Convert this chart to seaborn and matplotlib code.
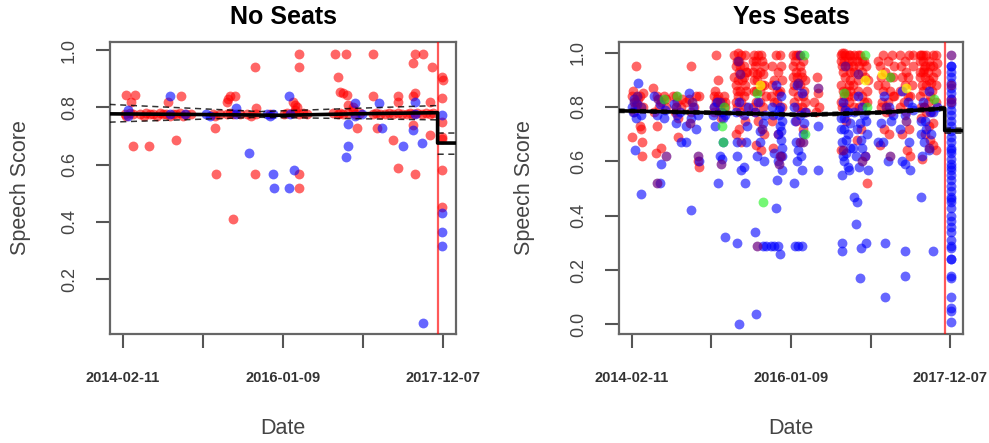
import numpy as np
import pandas as pd
import matplotlib
matplotlib.use("Agg")
import matplotlib.pyplot as plt
import seaborn as sns

# ---------------- data (x = days since 2014-02-11) ----------------
tick_days = [0, 348.5, 697, 1046, 1395]
tick_labels = ["2014-02-11", "", "2016-01-09", "", "2017-12-07"]
titles = ["No Seats", "Yes Seats"]
break_day = 1370

no_red = [
    (9, .775), (16, .77), (30, .78), (45, .775), (74, .775), (95, .77), (103, .78), (120, .775),
    (132, .775), (150, .77), (161, .78), (175, .775), (190, .775), (205, .77), (219, .775),
    (234, .775), (248, .78), (262, .77), (277, .775), (299, .775), (393, .775), (401, .77),
    (423, .775), (452, .775), (466, .78), (481, .775), (510, .775), (539, .775), (560, .77),
    (582, .775), (640, .775), (700, .775), (713, .78), (742, .78), (749, .79), (768, .775),
    (786, .78), (800, .775), (916, .78), (938, .775), (945, .78), (960, .775), (982, .78),
    (1003, .79), (1011, .775), (1032, .78), (1090, .775), (1100, .78), (1120, .775),
    (1140, .775), (1160, .78), (1178, .775), (1199, .78), (1215, .775), (1236, .775),
    (1250, .78), (1265, .775), (1280, .78), (1300, .775), (1320, .78), (1337, .775), (1352, .78),
    (16, .843), (52, .843), (38, .82), (45, .666), (115, .666), (197, .82), (256, .84),
    (234, .686), (401, .729), (408, .567), (452, .82), (466, .84), (488, .84), (459, .83),
    (481, .409), (575, .942), (582, .796), (575, .567), (768, .986), (768, .942), (742, .82),
    (749, .808), (760, .80), (768, .567), (768, .517), (923, .986), (971, .986), (938, .907),
    (945, .855), (960, .85), (974, .843), (982, .808), (1003, .80), (1018, .729), (1090, .986),
    (1090, .84), (1108, .729), (1199, .84), (1199, .82), (1178, .686), (1199, .587),
    (1272, .986), (1265, .953), (1308, .986), (1272, .849), (1265, .84), (1265, .738),
    (1272, .567), (1344, .942), (1337, .82), (1337, .703), (1388, .907), (1392, .895),
    (1388, .831), (1388, .75), (1388, .697), (1388, .69), (1388, .581), (1388, .453),
]
no_blue = [
    (23, .79), (23, .77), (208, .775), (270, .775), (364, .775), (380, .77), (495, .775),
    (626, .775), (640, .77), (655, .775), (727, .775), (1011, .77), (1040, .775), (1270, .775),
    (208, .84), (495, .796), (550, .639), (655, .567), (658, .517), (725, .84), (725, .517),
    (746, .581), (982, .742), (982, .663), (971, .625), (1011, .814), (1117, .814), (1127, .729),
    (1221, .666), (1272, .82), (1265, .72), (1301, .676), (1305, .046), (1388, .773),
    (1388, .43), (1388, .366), (1388, .314),
]

yes_red = [
    (20, .95), (5, .86), (35, .84), (20, .82), (50, .80), (10, .78), (0, .69), (45, .67), (45, .62),
    (35, .73), (40, .72), (30, .83), (15, .80), (0, .84), (50, .85),
    (95, .87), (110, .84), (130, .82), (150, .80), (100, .78), (110, .73), (130, .65), (105, .63),
    (140, .84), (120, .80), (150, .83),
    (180, .84), (200, .82), (215, .80), (190, .78), (205, .76), (205, .69), (220, .83), (195, .84),
    (260, .95), (295, .84), (240, .82), (275, .80), (260, .78), (290, .60), (295, .58), (250, .83),
    (280, .84),
    (370, .99), (380, .90), (360, .84), (375, .83), (395, .82), (410, .80), (360, .78), (390, .76),
    (405, .84), (370, .82),
    (465, 1.0), (480, .99), (495, .99), (455, .95), (470, .93), (485, .90), (455, .88), (500, .86),
    (465, .84), (480, .82), (460, .80), (495, .75), (470, .72), (455, .70), (480, .67), (500, .93),
    (470, .97), (490, .91), (460, .86),
    (535, .99), (555, .99), (570, .97), (540, .95), (560, .93), (535, .90), (570, .88), (545, .86),
    (560, .82), (575, .80), (540, .78), (555, .75), (580, .70), (545, .66), (565, .64), (590, .84),
    (550, .92),
    (630, .99), (650, .99), (615, .88), (645, .85), (625, .82), (660, .80), (615, .75), (640, .70),
    (620, .65), (655, .62), (635, .86),
    (720, .99), (705, .95), (740, .93), (725, .91), (710, .88), (755, .86), (730, .84), (710, .82),
    (745, .80), (765, .78), (720, .75), (750, .72), (735, .95), (715, .97), (760, .90),
    (810, .91), (800, .82), (820, .80), (805, .78), (815, .85),
    (920, 1.0), (935, .99), (950, .99), (915, .97), (945, .95), (925, .93), (955, .90), (915, .88),
    (940, .86), (930, .84), (950, .82), (920, .80), (940, .75), (915, .64), (930, .97), (955, .93),
    (975, .99), (1000, .99), (985, .97), (970, .95), (1010, .93), (990, .90), (1030, .86),
    (975, .84), (1015, .82), (995, .80), (1005, .72), (985, .68), (1020, .62), (1030, .52),
    (1015, .97), (1035, .90),
    (1140, .99), (1085, .95), (1110, .93), (1130, .91), (1080, .88), (1100, .86), (1145, .84),
    (1120, .82), (1090, .80), (1135, .78), (1105, .72), (1125, .70), (1085, .66), (1150, .95),
    (1230, .99), (1180, .95), (1210, .91), (1195, .88), (1220, .84), (1175, .80), (1200, .78),
    (1215, .72), (1185, .70), (1205, .64), (1220, .62), (1230, .95),
    (1265, .99), (1290, .99), (1320, .99), (1275, .97), (1305, .95), (1260, .93), (1330, .93),
    (1285, .91), (1300, .90), (1270, .88), (1315, .86), (1260, .84), (1295, .82), (1280, .80),
    (1310, .78), (1265, .76), (1300, .73), (1285, .70), (1320, .66), (1330, .64), (1270, .61),
    (1335, .96), (1280, .94), (1310, .89),
    (1398, .83),
]
yes_red_dense = [
    (360, .80), (380, .84), (395, .78), (365, .86), (410, .82), (385, .80),
    (450, .99), (460, .97), (475, .95), (490, .95), (505, .93), (450, .91), (465, .90), (495, .88),
    (475, .86), (490, .84), (455, .82), (500, .80), (475, .78),
    (530, .97), (545, .97), (565, .99), (580, .95), (530, .93), (550, .90), (575, .92), (535, .86),
    (560, .86), (580, .88), (545, .82), (530, .80),
    (615, .95), (640, .93), (660, .90), (625, .90), (650, .86), (610, .84), (635, .82), (655, .95),
    (705, .99), (730, .99), (750, .97), (705, .91), (720, .93), (745, .91), (735, .88), (750, .84),
    (705, .86), (725, .80), (760, .82), (740, .78),
    (915, .99), (930, 1.0), (945, .97), (955, .99), (920, .95), (935, .91), (950, .88), (925, .86),
    (945, .84), (915, .82), (935, .80), (955, .86),
    (965, .97), (990, .99), (1010, .97), (1025, .95), (975, .93), (995, .95), (1020, .91),
    (970, .88), (990, .86), (1010, .84), (1030, .82), (975, .80),
    (1080, .97), (1100, .99), (1120, .97), (1145, .91), (1090, .91), (1110, .88), (1130, .86),
    (1150, .84), (1095, .82), (1115, .78),
    (1175, .99), (1195, .97), (1215, .99), (1185, .91), (1200, .93), (1225, .88), (1175, .86),
    (1210, .84), (1190, .82),
    (1260, .99), (1275, .99), (1300, .97), (1330, .99), (1260, .97), (1285, .95), (1320, .95),
    (1275, .93), (1295, .93), (1260, .91), (1320, .91), (1290, .88), (1330, .88), (1275, .86),
    (1305, .84), (1330, .82), (1290, .78), (1265, .80), (1320, .74), (1305, .68),
]
yes_blue = [
    (30, .89), (10, .83), (25, .81), (5, .78), (40, .77), (20, .76), (15, .64), (40, .48), (0, .80),
    (100, .84), (125, .81), (145, .79), (110, .77), (130, .59), (125, .52), (140, .76),
    (185, .81), (210, .78), (195, .74), (215, .67), (200, .77),
    (250, .85), (270, .80), (290, .77), (240, .73), (280, .72), (240, .67), (295, .60), (260, .42),
    (260, .76),
    (375, .82), (360, .80), (390, .78), (410, .77), (365, .73), (400, .67), (385, .62), (395, .61),
    (380, .52), (410, .32), (355, .77), (400, .76),
    (470, .82), (455, .78), (490, .77), (505, .73), (460, .67), (500, .67), (460, .62), (490, .58),
    (480, .57), (495, .52), (460, .30), (470, .00), (510, .80),
    (555, .82), (540, .78), (575, .74), (560, .71), (560, .67), (550, .62), (580, .60), (540, .34),
    (575, .29), (590, .29), (545, .04), (585, .77),
    (630, .88), (655, .84), (615, .80), (645, .77), (660, .75), (650, .73), (640, .70), (660, .65),
    (625, .63), (660, .57), (635, .53), (630, .43), (610, .29), (625, .29), (640, .29), (650, .26),
    (645, .79), (655, .71),
    (725, .88), (745, .85), (710, .80), (735, .77), (755, .74), (720, .67), (740, .62), (725, .60),
    (745, .57), (710, .52), (715, .29), (730, .29), (745, .29), (760, .78),
    (815, .73), (815, .57),
    (925, .82), (945, .78), (915, .76), (955, .74), (930, .72), (945, .70), (920, .67), (940, .63),
    (930, .60), (950, .57), (920, .55), (920, .30), (920, .27), (935, .79),
    (990, .84), (1010, .80), (975, .78), (1025, .75), (985, .72), (1005, .68), (970, .65),
    (1020, .62), (995, .58), (1035, .57), (975, .47), (985, .45), (980, .37), (1005, .28),
    (1025, .30), (1000, .17), (1015, .77),
    (1105, .84), (1125, .80), (1145, .77), (1090, .74), (1080, .67), (1100, .67), (1120, .60),
    (1110, .30), (1110, .10), (1135, .75),
    (1185, .86), (1210, .82), (1225, .80), (1195, .77), (1175, .72), (1215, .67), (1185, .60),
    (1195, .59), (1220, .57), (1195, .27), (1195, .18), (1230, .79),
    (1300, .86), (1275, .82), (1320, .78), (1265, .75), (1290, .72), (1310, .70), (1280, .67),
    (1300, .64), (1270, .62), (1265, .47), (1320, .27), (1335, .80),
    (650, .80), (620, .77), (655, .68), (640, .60), (660, .62),
    (915, .72), (940, .68), (955, .65), (925, .62), (945, .58), (930, .76),
    (1000, .74), (1030, .70), (980, .62), (1010, .65),
    (715, .75), (750, .70), (730, .64), (1285, .75), (1265, .70), (1305, .78),
    (1398, .95), (1398, .93), (1398, .91), (1398, .89), (1398, .87), (1398, .85), (1398, .83),
    (1398, .81), (1398, .79), (1398, .77), (1398, .75), (1398, .73), (1398, .71), (1398, .69),
    (1398, .67), (1398, .65), (1398, .63), (1398, .61), (1398, .59), (1398, .57), (1398, .55),
    (1398, .53), (1398, .51), (1398, .49), (1398, .47), (1398, .45), (1398, .43), (1398, .40),
    (1398, .38), (1398, .36), (1398, .34), (1398, .31), (1398, .29), (1398, .28), (1398, .24),
    (1398, .24), (1398, .18), (1398, .17), (1398, .10), (1398, .06), (1398, .05), (1398, .01),
    (1398, .95), (1398, .64), (1398, .58), (1398, .46),
]
yes_green = [
    (200, .84), (140, .83), (395, .73), (400, .67), (405, .80), (550, .85), (575, .45),
    (755, .99), (760, .70), (930, .85), (1020, .99), (1030, .80), (1130, .91), (1325, .83),
]
yes_yellow = [(1020, .90), (1095, .92), (1200, .87), (560, .88)]
yes_purple = [
    (25, .84), (10, .82), (40, .80), (115, .83), (110, .52), (150, .62), (195, .80), (265, .82),
    (290, .62), (255, .74), (390, .59), (385, .82), (465, .97), (475, .92), (548, .29), (570, .72),
    (645, .59), (650, .62), (735, .99), (730, .89), (735, .67), (750, .67), (815, .87), (935, .95),
    (925, .64), (990, .92), (1010, .60), (1130, .62), (1115, .80), (1200, .75), (1280, .80),
    (1300, .65), (1398, .99), (1398, .88), (1398, .82),
]

# fitted step lines (NaN breaks the line at the cut-over)
no_fit_day = [-57, 300, 700, 1000, 1370, 1370, 1460]
no_fit = [0.777, 0.775, 0.772, 0.777, 0.781, 0.675, 0.675]
no_ci_day = [-57, 600, 1370, np.nan, 1370, 1460]
no_ci_hi = [0.810, 0.785, 0.806, np.nan, 0.710, 0.710]
no_ci_lo = [0.748, 0.765, 0.756, np.nan, 0.636, 0.636]

yes_fit_day = [-57, 400, 750, 1100, 1370, 1370, 1460]
yes_fit = [0.786, 0.778, 0.771, 0.780, 0.795, 0.713, 0.713]
yes_ci_day = [-57, 400, 750, 1100, 1370, np.nan, 1370, 1460]
yes_ci_hi = [0.792, 0.784, 0.777, 0.786, 0.802, np.nan, 0.722, 0.722]
yes_ci_lo = [0.780, 0.772, 0.765, 0.774, 0.788, np.nan, 0.704, 0.704]

# ---------------- style ----------------
sns.set_style("white")
plt.rcParams["font.family"] = ["Liberation Sans", "DejaVu Sans"]

colors = {"red": ((1, 0, 0), 0.6), "blue": ((0, 0, 1), 0.6), "green": ((0.1, 0.95, 0.1), 0.6),
          "yellow": ((1, 1, 0), 0.7), "purple": ((0.42, 0.0, 0.5), 0.7)}

fig = plt.figure(figsize=(9.89, 4.43), dpi=100)
axL = fig.add_axes([110 / 989, 109 / 443, 346 / 989, 292 / 443])
axR = fig.add_axes([619 / 989, 109 / 443, 344 / 989, 292 / 443])

panels = [
    (axL, [("red", no_red), ("blue", no_blue)], (no_fit_day, no_fit),
     (no_ci_day, no_ci_hi, no_ci_lo), (0.008, 1.028), [0.2, 0.4, 0.6, 0.8, 1.0], -0.26),
    (axR, [("red", yes_red + yes_red_dense), ("blue", yes_blue), ("purple", yes_purple),
           ("green", yes_green), ("yellow", yes_yellow)],
     (yes_fit_day, yes_fit), (yes_ci_day, yes_ci_hi, yes_ci_lo),
     (-0.035, 1.039), [0.0, 0.2, 0.4, 0.6, 0.8, 1.0], -0.274),
]

for i, (ax, groups, fit, ci, ylim, yt, ylab_x) in enumerate(panels):
    for name, pts in groups:
        df = pd.DataFrame(pts, columns=["day", "score"])
        c, a = colors[name]
        sns.scatterplot(data=df, x="day", y="score", ax=ax, color=c, alpha=a,
                        s=50, linewidth=0, zorder=2)
    ax.axvline(break_day, color=(1, 0, 0, 0.65), lw=1.6, zorder=3)
    ax.plot(fit[0], fit[1], color="black", lw=2.6, zorder=4)
    ax.plot(ci[0], ci[1], color="black", lw=1.1, ls=(0, (4, 3)), zorder=4, alpha=0.8)
    ax.plot(ci[0], ci[2], color="black", lw=1.1, ls=(0, (4, 3)), zorder=4, alpha=0.8)

    ax.set_xlim(-55, 1450)
    ax.set_ylim(*ylim)
    ax.set_xticks(tick_days)
    ax.set_xticklabels(tick_labels, fontsize=10.5, fontweight="bold", color="#333333")
    ax.set_yticks(yt)
    ax.set_yticklabels([f"{v:.1f}" for v in yt], fontsize=13, color="#444444",
                       rotation=90, va="center")
    ax.tick_params(axis="x", bottom=True, length=10, width=1.5, color="#555555", pad=17)
    ax.tick_params(axis="y", left=True, length=10, width=1.5, color="#555555", pad=13)
    for sp in ax.spines.values():
        sp.set_color("#666666")
        sp.set_linewidth(1.6)
    ax.grid(False)
    ax.set_xlabel("Date", fontsize=15.5, color="#444444")
    ax.set_ylabel("Speech Score", fontsize=15.5, color="#444444")
    ax.xaxis.set_label_coords(0.5, -0.322)
    ax.xaxis.label.set_va("center")
    ax.yaxis.set_label_coords(ylab_x, 0.5)
    ax.yaxis.label.set_va("center")
    ax.text(0.5, 1.086, titles[i], transform=ax.transAxes, ha="center", va="center",
            fontsize=18, fontweight="bold", color="black")

fig.savefig("out.png", dpi=100)
